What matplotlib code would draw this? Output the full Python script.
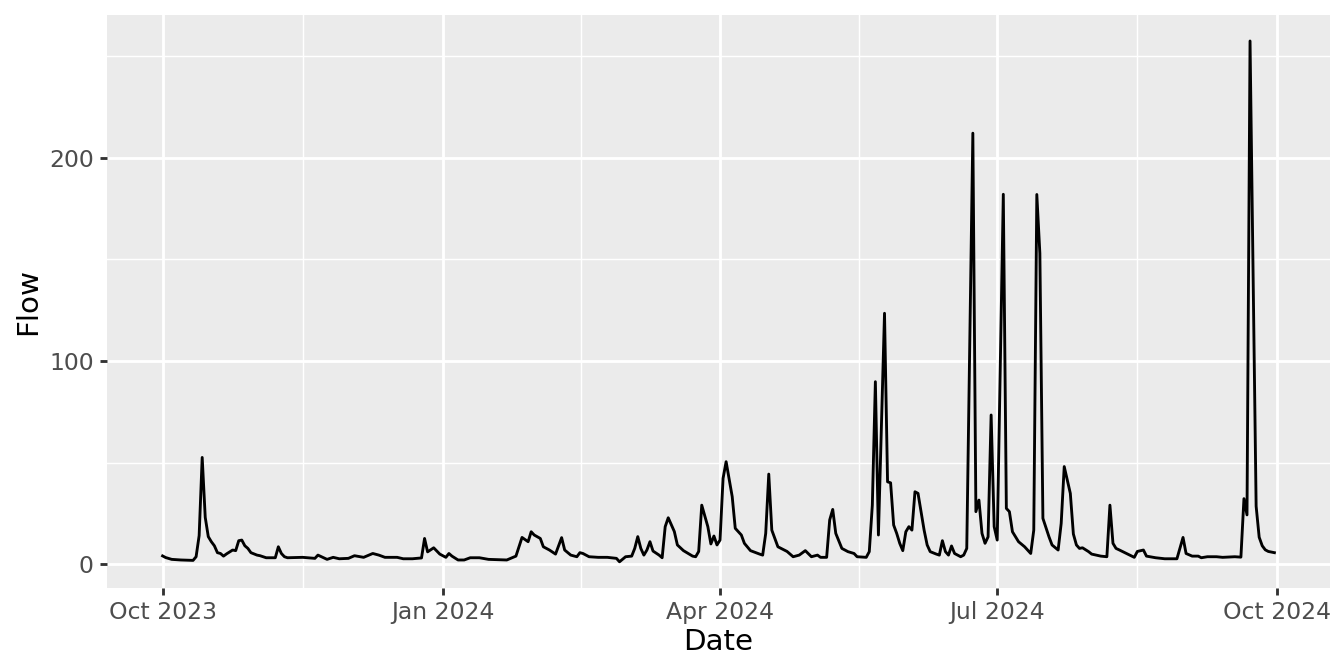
import pandas as pd
import matplotlib.pyplot as plt
import matplotlib.dates as mdates

# daily flow (day offset from 2023-10-01, value)
start = pd.Timestamp('2023-10-01')
day = [0, 1, 3, 6, 10, 11, 12, 13, 14, 15, 16, 17, 18, 19, 20, 21, 23, 24, 25, 26,
       27, 28, 29, 31, 32, 34, 37, 38, 39, 40, 41, 46, 50, 51, 54, 56, 58, 61, 63, 66,
       69, 71, 73, 77, 79, 82, 85, 86, 87, 89, 91, 93, 94, 95, 97, 99, 101, 104, 107, 113,
       116, 118, 120, 121, 122, 124, 125, 127, 129, 131, 132, 134, 136, 137, 138, 140, 143, 146, 149, 150,
       152, 154, 155, 156, 157, 158, 159, 160, 161, 163, 164, 165, 166, 168, 169, 171, 174, 175, 176, 177,
       179, 180, 181, 182, 183, 184, 185, 187, 188, 190, 191, 193, 196, 197, 198, 199, 200, 202, 205, 207,
       209, 211, 213, 215, 216, 218, 219, 220, 221, 223, 225, 227, 228, 231, 232, 233, 234, 235, 237, 238,
       239, 240, 241, 242, 243, 244, 245, 246, 247, 248, 250, 251, 252, 254, 255, 256, 257, 258, 259, 260,
       262, 263, 264, 266, 267, 268, 269, 270, 271, 272, 273, 274, 276, 277, 278, 279, 281, 283, 285, 286,
       287, 288, 289, 291, 292, 294, 295, 296, 298, 299, 300, 301, 302, 304, 305, 308, 310, 311, 312, 313,
       314, 319, 320, 322, 323, 326, 329, 333, 335, 336, 338, 340, 341, 343, 346, 348, 352, 354, 355, 356,
       357, 359, 360, 361, 362, 363, 365]
flow = [4.0, 3.2, 2.3, 2.0, 1.8, 3.6, 14.0, 52.5, 23.0, 13.5, 11.0, 9.0, 5.6, 5.2, 3.9, 5.0, 6.9, 6.6, 11.5, 11.8,
        9.0, 7.7, 5.6, 4.4, 4.1, 3.1, 3.1, 8.5, 5.2, 3.6, 3.1, 3.3, 2.8, 4.4, 2.3, 3.3, 2.6, 2.8, 4.1, 3.3,
        5.2, 4.4, 3.3, 3.3, 2.6, 2.6, 3.0, 12.6, 6.0, 8.0, 4.9, 3.3, 5.2, 3.9, 2.0, 2.0, 3.1, 3.1, 2.3, 2.0,
        3.9, 13.1, 11.0, 15.9, 14.3, 12.6, 8.5, 6.9, 4.9, 13.0, 6.9, 4.4, 3.6, 5.6, 5.2, 3.6, 3.3, 3.3, 2.8, 1.1,
        3.6, 3.9, 7.7, 13.5, 7.7, 4.4, 6.9, 11.0, 6.4, 4.4, 3.1, 18.4, 22.8, 16.0, 9.4, 6.6, 3.9, 3.6, 6.2, 29.0,
        18.4, 9.9, 13.8, 9.4, 11.8, 42.2, 50.4, 33.2, 17.6, 14.3, 10.2, 6.6, 4.9, 4.4, 15.1, 44.3, 16.7, 8.5, 6.2, 3.6,
        4.4, 6.6, 3.6, 4.4, 3.3, 3.3, 21.7, 26.9, 15.1, 7.7, 6.1, 5.2, 3.6, 3.3, 6.1, 29.0, 89.8, 14.3, 123.5, 40.5,
        40.0, 19.2, 15.1, 10.2, 6.6, 15.9, 18.4, 16.7, 35.6, 34.8, 16.7, 9.4, 6.1, 4.9, 4.4, 11.5, 6.1, 4.4, 8.9, 5.2,
        3.6, 4.4, 7.7, 212.2, 25.8, 31.5, 15.1, 10.2, 13.4, 73.4, 18.4, 11.8, 182.1, 27.4, 25.8, 15.9, 11.0, 8.5, 5.2, 16.7,
        182.0, 153.0, 22.5, 13.4, 9.4, 6.9, 20.0, 48.0, 34.8, 14.8, 9.4, 7.7, 8.0, 6.1, 4.9, 3.9, 3.6, 29.0, 10.2, 7.7,
        7.0, 3.3, 6.2, 6.9, 3.9, 3.1, 2.6, 2.6, 13.1, 5.2, 3.9, 3.9, 3.1, 3.6, 3.6, 3.3, 3.6, 3.4, 32.2, 24.2,
        257.6, 28.5, 13.2, 9.0, 7.0, 6.2, 5.6]

major_dates = ['2023-10-01', '2024-01-01', '2024-04-01', '2024-07-01', '2024-10-01']
y_major = [0, 100, 200]
y_minor = [50, 150, 250]

dates = start + pd.to_timedelta(day, unit='D')
majors = pd.to_datetime(major_dates)
minors = [majors[i] + (majors[i + 1] - majors[i]) / 2 for i in range(len(majors) - 1)]

fig = plt.figure(figsize=(7, 3.5), dpi=192)
ax = fig.add_axes([107 / 1344, 84 / 672, 1223 / 1344, 573 / 672])
ax.set_facecolor('#EBEBEB')
for s in ax.spines.values():
    s.set_visible(False)

ax.plot(dates, flow, color='black', linewidth=1.07, zorder=3)

ax.set_xticks(majors)
ax.set_xticks(minors, minor=True)
ax.xaxis.set_major_formatter(mdates.DateFormatter('%b %Y'))
ax.set_yticks(y_major)
ax.set_yticks(y_minor, minor=True)
ax.margins(x=0.05)
ax.set_ylim(-11.8, 270.4)

ax.grid(which='major', color='white', linewidth=1.07)
ax.grid(which='minor', color='white', linewidth=0.53)
ax.set_axisbelow(True)
ax.tick_params(which='major', length=2.75, width=1.07, color='#333333',
               labelsize=8.8, labelcolor='#4D4D4D', pad=2.2)
ax.tick_params(which='minor', length=0)

ax.set_xlabel('Date', fontsize=11, labelpad=1.5)
ax.set_ylabel('Flow', fontsize=11, labelpad=2.5)

fig.savefig('out.png', dpi=192)
